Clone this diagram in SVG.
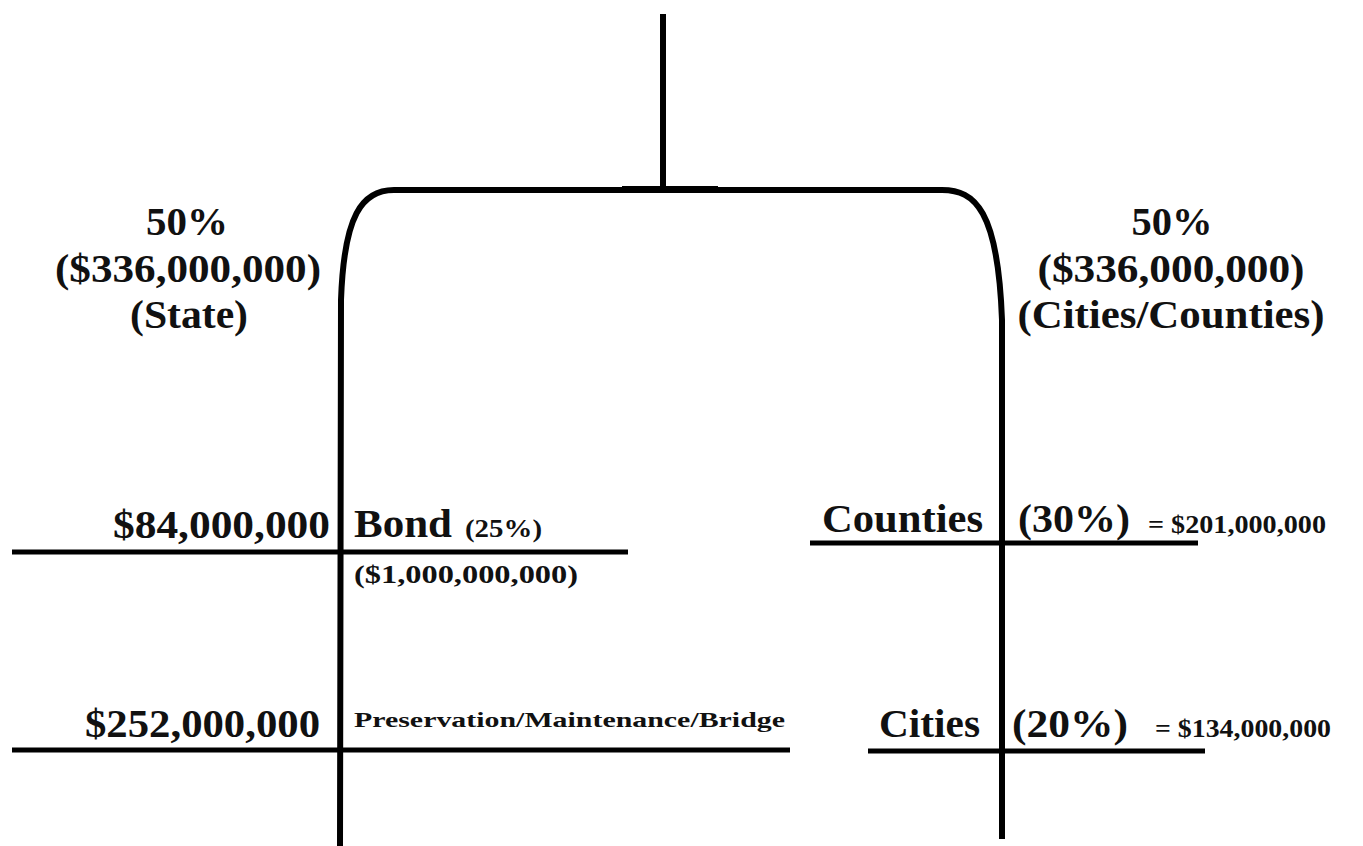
<svg xmlns="http://www.w3.org/2000/svg" width="1363" height="846" viewBox="0 0 1363 846">
<style>
text{font-family:"Liberation Serif","Times New Roman",serif;font-weight:bold;fill:#111}
.big{font-size:40px}
.sm{font-size:25px}
.xs{font-size:21px}
.ln{stroke:#000;stroke-width:6;fill:none;stroke-linejoin:round}
.hl{stroke:#000;stroke-width:5;fill:none}
</style>
<rect width="1363" height="846" fill="#fff"/>
<g id="connectors">
<path class="ln" d="M663 14 L663 189"/>
<path class="hl" d="M622 188 L718 188" style="stroke-width:4"/>
<path class="ln" d="M340 846 L341 300 C344 215 362 190 394 190 L942 190 C975 190 998 210 1002 320 L1002 839"/>
<path class="hl" d="M12 552 L628 552"/>
<path class="hl" d="M12 750 L790 750"/>
<path class="hl" d="M810 543 L1198 543"/>
<path class="hl" d="M868 751 L1205 751"/>
</g>
<g id="state">
<text class="big" x="187" y="235" text-anchor="middle" textLength="82" lengthAdjust="spacingAndGlyphs">50%</text>
<text class="big" x="188" y="282" text-anchor="middle" textLength="266" lengthAdjust="spacingAndGlyphs">($336,000,000)</text>
<text class="big" x="189" y="328" text-anchor="middle" textLength="118" lengthAdjust="spacingAndGlyphs">(State)</text>
</g>
<g id="cities-counties">
<text class="big" x="1172" y="235" text-anchor="middle" textLength="81" lengthAdjust="spacingAndGlyphs">50%</text>
<text class="big" x="1171" y="282" text-anchor="middle" textLength="267" lengthAdjust="spacingAndGlyphs">($336,000,000)</text>
<text class="big" x="1171" y="328" text-anchor="middle" textLength="307" lengthAdjust="spacingAndGlyphs">(Cities/Counties)</text>
</g>
<g id="bond">
<text class="big" x="113" y="538" textLength="217" lengthAdjust="spacingAndGlyphs">$84,000,000</text>
<text class="big" x="354" y="537" textLength="98" lengthAdjust="spacingAndGlyphs">Bond</text>
<text class="sm" x="465" y="537" textLength="77" lengthAdjust="spacingAndGlyphs">(25%)</text>
<text class="sm" x="354" y="583" textLength="224" lengthAdjust="spacingAndGlyphs">($1,000,000,000)</text>
</g>
<g id="preservation">
<text class="big" x="85" y="737" textLength="235" lengthAdjust="spacingAndGlyphs">$252,000,000</text>
<text class="xs" x="354" y="727" textLength="431" lengthAdjust="spacingAndGlyphs">Preservation/Maintenance/Bridge</text>
</g>
<g id="counties">
<text class="big" x="822" y="532" textLength="161" lengthAdjust="spacingAndGlyphs">Counties</text>
<text class="big" x="1018" y="532" textLength="112" lengthAdjust="spacingAndGlyphs">(30%)</text>
<text class="sm" x="1148" y="533" textLength="178" lengthAdjust="spacingAndGlyphs">= $201,000,000</text>
</g>
<g id="cities">
<text class="big" x="879" y="737" textLength="101" lengthAdjust="spacingAndGlyphs">Cities</text>
<text class="big" x="1012" y="737" textLength="116" lengthAdjust="spacingAndGlyphs">(20%)</text>
<text class="sm" x="1155" y="737" textLength="176" lengthAdjust="spacingAndGlyphs">= $134,000,000</text>
</g>
</svg>
